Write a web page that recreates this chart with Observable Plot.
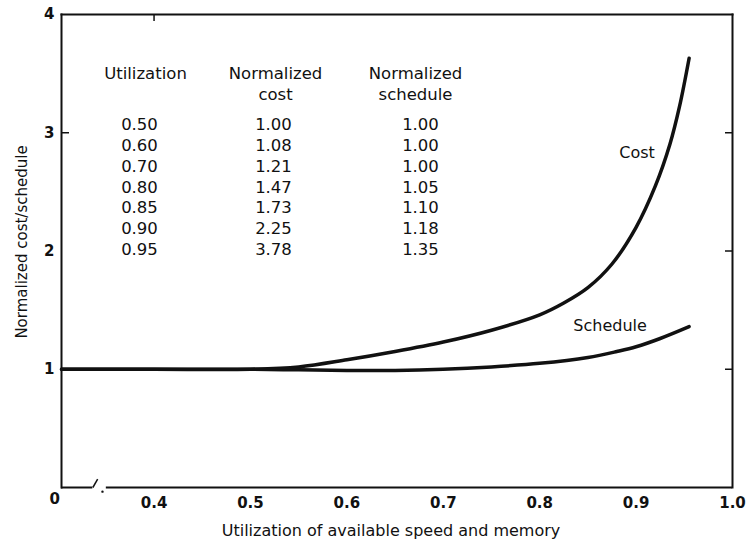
<!DOCTYPE html>
<html><head><meta charset="utf-8">
<script src="https://cdn.jsdelivr.net/npm/d3@7"></script>
<script src="https://cdn.jsdelivr.net/npm/@observablehq/plot@0.6"></script>
<style>body{margin:0;background:#fff} svg{display:block}</style>
</head><body><div id="chart"></div>
<script>
// Curves
const costX  = [0.304, 0.40, 0.50, 0.55, 0.60, 0.65, 0.70, 0.75, 0.80, 0.825, 0.85, 0.875, 0.90, 0.92, 0.935, 0.945, 0.955];
const costY  = [1.00, 1.00, 1.00, 1.02, 1.08, 1.15, 1.23, 1.33, 1.46, 1.56, 1.69, 1.89, 2.20, 2.55, 2.90, 3.22, 3.63];
const schedX = [0.304, 0.40, 0.50, 0.55, 0.60, 0.65, 0.70, 0.75, 0.80, 0.85, 0.88, 0.90, 0.925, 0.955];
const schedY = [1.00, 1.00, 1.00, 0.995, 0.99, 0.99, 1.00, 1.02, 1.05, 1.10, 1.15, 1.19, 1.26, 1.36];
const seriesNames = ["Cost", "Schedule"];

// Axes
const xTicks = [0.4, 0.5, 0.6, 0.7, 0.8, 0.9, 1.0];
const yTicks = [1, 2, 3, 4];
const originLabel = "0";
const xTitle = "Utilization of available speed and memory";
const yTitle = "Normalized cost/schedule";

// Inset table
const tableHeaders = ["Utilization", "Normalized\ncost", "Normalized\nschedule"];
const tableUtil  = ["0.50", "0.60", "0.70", "0.80", "0.85", "0.90", "0.95"];
const tableCost  = ["1.00", "1.08", "1.21", "1.47", "1.73", "2.25", "3.78"];
const tableSched = ["1.00", "1.00", "1.00", "1.05", "1.10", "1.18", "1.35"];

// Layout (not data)
const xDomain = [0.304, 1.0];
const yDomain = [0, 4];
const axisBreak = [0.3365, 0.3505];
const labelPos = {Cost: [0.901, 2.83], Schedule: [0.873, 1.37]};
const headerDx = [84, 214, 354];
const valueDx = [78, 212, 359];

const costData = costX.map((x, i) => ({x, y: costY[i], s: seriesNames[0]}));
const schedData = schedX.map((x, i) => ({x, y: schedY[i], s: seriesNames[1]}));
const curves = costData.concat(schedData);

const ink = "#111";
const font = "DejaVu Sans";

const chart = Plot.plot({
  width: 750, height: 545,
  marginTop: 14, marginRight: 18, marginBottom: 58, marginLeft: 61,
  style: {fontFamily: font, color: ink, background: "#fff"},
  x: {domain: xDomain},
  y: {domain: yDomain},
  marks: [
    Plot.axisX({ticks: xTicks, tickFormat: d3.format(".1f"), tickSize: 0, tickPadding: 10, fontSize: 15, fontWeight: "bold", label: null}),
    Plot.axisY({ticks: yTicks, tickFormat: d3.format("d"), tickSize: 0, tickPadding: 7, fontSize: 15, fontWeight: "bold", label: null}),
    Plot.text([originLabel], {frameAnchor: "bottom-left", dx: -12, dy: 16, fontSize: 15, fontWeight: "bold", fill: ink}),
    Plot.text([xTitle], {frameAnchor: "bottom", dx: -6, dy: 48, fontSize: 16, fill: ink}),
    Plot.text([yTitle], {frameAnchor: "left", textAnchor: "middle", dx: -39, dy: -9, rotate: -90, fontSize: 15, fill: ink}),
    // frame (bottom broken)
    Plot.frame({anchor: "left", stroke: ink, strokeWidth: 2}),
    Plot.frame({anchor: "top", stroke: ink, strokeWidth: 2}),
    Plot.frame({anchor: "right", stroke: ink, strokeWidth: 2}),
    Plot.ruleY([0], {x1: xDomain[0], x2: axisBreak[0], stroke: ink, strokeWidth: 2}),
    Plot.ruleY([0], {x1: axisBreak[1], x2: xDomain[1], stroke: ink, strokeWidth: 2}),
    Plot.link([0], {x1: axisBreak[0], y1: 0, x2: axisBreak[0] + 0.005, y2: 0.07, stroke: ink, strokeWidth: 1.5}),
    Plot.dot([0], {x: axisBreak[1] - 0.004, y: -0.035, r: 1.2, fill: ink}),
    // inner ticks
    Plot.axisY({ticks: [3], anchor: "left", tickSize: -8, tickFormat: () => "", label: null, strokeWidth: 1.5}),
    Plot.axisY({ticks: [1, 2, 3], anchor: "right", tickSize: -8, tickFormat: () => "", label: null, strokeWidth: 1.5}),
    Plot.axisX({ticks: [0.4], anchor: "top", tickSize: -6, tickFormat: () => "", label: null, strokeWidth: 1.5}),
    // curves
    Plot.line(curves, {x: "x", y: "y", z: "s", stroke: ink, strokeWidth: 3.5, curve: "catmull-rom"}),
    Plot.text(seriesNames, {x: d => labelPos[d][0], y: d => labelPos[d][1], text: d => d, fontSize: 16, fill: ink}),
    // table
    ...tableHeaders.map((h, i) => Plot.text([h], {frameAnchor: "top-left", dx: headerDx[i], dy: 49, lineAnchor: "top", textAnchor: "middle", lineHeight: 1.28, fontSize: 16.5, fill: ink})),
    ...[tableUtil, tableCost, tableSched].map((col, i) => Plot.text([col.join("\n")], {frameAnchor: "top-left", dx: valueDx[i], dy: 101, lineAnchor: "top", textAnchor: "middle", lineHeight: 1.26, fontSize: 16.5, fill: ink}))
  ]
});
document.getElementById("chart").appendChild(chart);
</script>
</body></html>
